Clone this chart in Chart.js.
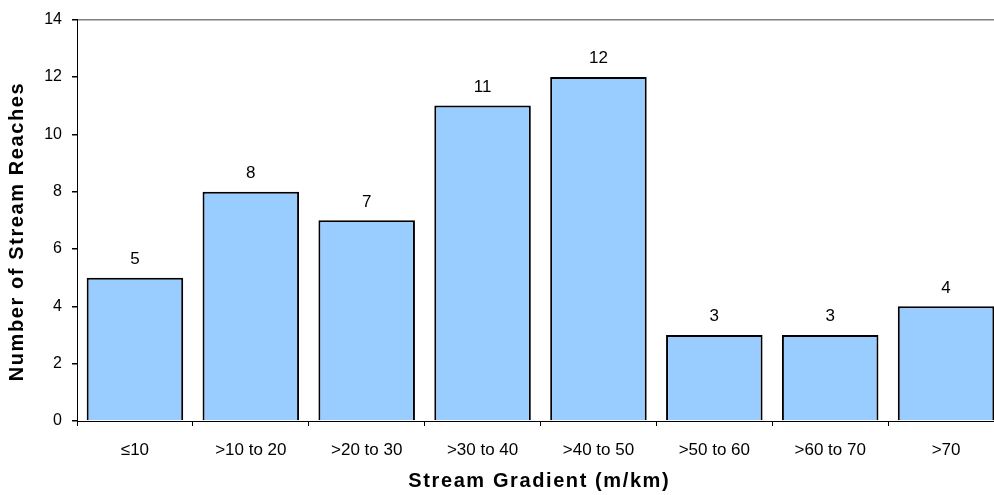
<!DOCTYPE html>
<html>
<head>
<meta charset="utf-8">
<script src="https://cdn.jsdelivr.net/npm/chart.js@4/dist/chart.umd.min.js"></script>
<style>
  html, body { margin: 0; padding: 0; overflow: hidden; background: #fff; }
  #wrap { width: 1004px; height: 495px; }
</style>
</head>
<body>
<div id="wrap"><canvas id="c" width="1004" height="495"></canvas></div>
<script>
// Stream reaches grouped by gradient class
const categories = ['\u226410', '>10 to 20', '>20 to 30', '>30 to 40', '>40 to 50', '>50 to 60', '>60 to 70', '>70'];
const reachCounts = [5, 8, 7, 11, 12, 3, 3, 4];
const yTicks = [0, 2, 4, 6, 8, 10, 12, 14];
const xTitle = 'Stream Gradient (m/km)';
const yTitle = 'Number of Stream Reaches';

const FONT = '"Liberation Sans", Arial, sans-serif';

// Draws a string centred on (0,0) with extra spacing between characters
function spacedText(ctx, text, spacing) {
  const widths = Array.from(text).map(ch => ctx.measureText(ch).width);
  const total = widths.reduce((a, b) => a + b, 0) + spacing * (widths.length - 1);
  let x = -total / 2;
  ctx.textAlign = 'left';
  Array.from(text).forEach((ch, i) => {
    ctx.fillText(ch, x, 0);
    x += widths[i] + spacing;
  });
}

// Writes each bar's count just above it
const valueLabels = {
  id: 'valueLabels',
  afterDatasetsDraw(chart) {
    const ctx = chart.ctx;
    const meta = chart.getDatasetMeta(0);
    ctx.save();
    ctx.font = '17px ' + FONT;
    ctx.fillStyle = '#000';
    ctx.textAlign = 'center';
    ctx.textBaseline = 'alphabetic';
    meta.data.forEach((bar, i) => {
      ctx.fillText(String(reachCounts[i]), bar.x, bar.y - 13.5);
    });
    ctx.restore();
  }
};

// Bold, letter-spaced axis titles
const axisTitles = {
  id: 'axisTitles',
  afterDraw(chart) {
    const ctx = chart.ctx;
    const a = chart.chartArea;
    ctx.save();
    ctx.font = 'bold 20px ' + FONT;
    ctx.fillStyle = '#000';
    ctx.textBaseline = 'middle';
    ctx.save();
    ctx.translate((a.left + a.right) / 2 - 2, 481);
    spacedText(ctx, xTitle, 1.6);
    ctx.restore();
    ctx.save();
    ctx.translate(17, (a.top + a.bottom) / 2 + 12);
    ctx.rotate(-Math.PI / 2);
    spacedText(ctx, yTitle, 1.6);
    ctx.restore();
    ctx.restore();
  }
};

new Chart(document.getElementById('c'), {
  type: 'bar',
  data: {
    labels: categories,
    datasets: [{
      data: reachCounts,
      backgroundColor: '#99CCFF',
      borderColor: '#000',
      borderWidth: 2,
      categoryPercentage: 1,
      barPercentage: 0.833
    }]
  },
  options: {
    responsive: false,
    animation: false,
    events: [],
    layout: { padding: { top: 19, left: 0, right: 0, bottom: 0 } },
    plugins: { legend: { display: false }, tooltip: { enabled: false } },
    scales: {
      x: {
        afterFit(scale) { scale.height = 74; },
        grid: {
          drawOnChartArea: false,
          drawTicks: true,
          tickLength: 5,
          tickColor: '#000',
          offset: true
        },
        border: { color: '#000', width: 1 },
        ticks: { color: '#000', font: { family: FONT, size: 17 }, padding: 14, maxRotation: 0, autoSkip: false },
        title: { display: false }
      },
      y: {
        min: 0,
        max: 14,
        afterFit(scale) { scale.width = 77; },
        afterBuildTicks(scale) { scale.ticks = yTicks.map(v => ({ value: v })); },
        grid: {
          drawOnChartArea: true,
          color: ctx => (ctx.tick && ctx.tick.value === 14) ? '#808080' : 'rgba(0,0,0,0)',
          lineWidth: 1.5,
          tickLength: 5,
          tickColor: '#000'
        },
        border: { color: '#000', width: 1 },
        ticks: { color: '#000', font: { family: FONT, size: 16 }, padding: 10 },
        title: { display: false }
      }
    }
  },
  plugins: [valueLabels, axisTitles]
});
</script>
</body>
</html>
